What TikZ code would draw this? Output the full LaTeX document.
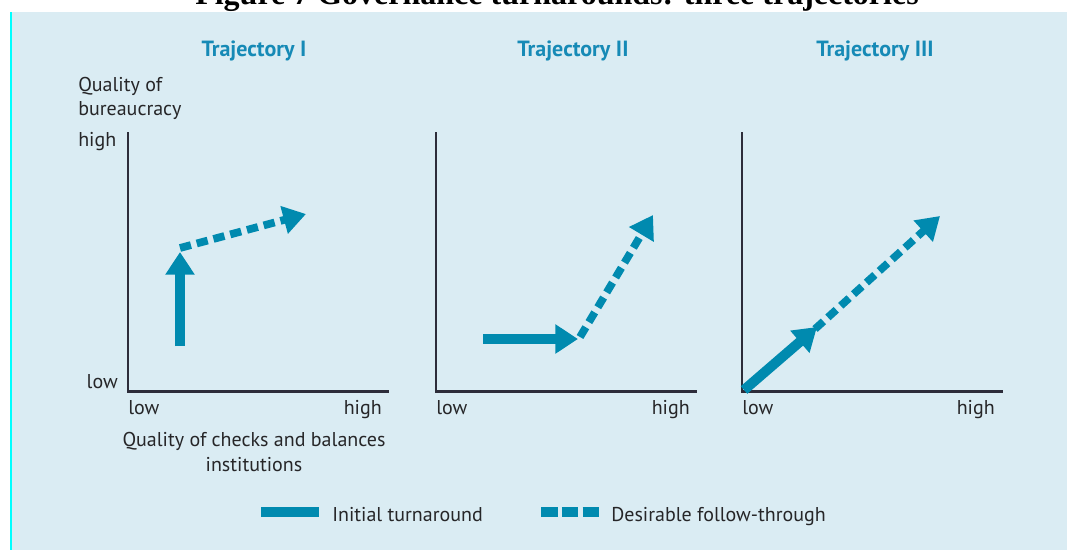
\documentclass[tikz,border=0pt]{standalone}
\usepackage{fontspec}
\setmainfont{PT Sans}
\newfontfamily\titlefont{Liberation Serif}
\usetikzlibrary{arrows.meta}
\definecolor{bgblue}{RGB}{218,236,243}
\definecolor{edgecyan}{RGB}{0,255,255}
\definecolor{arrowblue}{RGB}{0,138,175}
\definecolor{headblue}{RGB}{22,138,182}
\definecolor{axisgray}{RGB}{45,45,58}
\definecolor{textgray}{RGB}{38,38,40}
\tikzset{
  lbl/.style={font=\fontsize{15}{18}\selectfont, text=textgray, inner sep=0pt},
  paneltitle/.style={font=\fontsize{16.5}{19}\selectfont\bfseries, text=headblue, inner sep=0pt, anchor=base},
  axisline/.style={draw=axisgray, line width=1.6pt},
  initarrow/.style={draw=arrowblue, line width=7.5pt, -{Triangle[length=17pt,width=21pt]}},
  followarrow/.style={draw=arrowblue, line width=5.8pt, dash pattern=on 8.5pt off 4.5pt, -{Triangle[length=17pt,width=20.5pt]}},
}
\begin{document}
\begin{tikzpicture}[x=0.75pt,y=-0.75pt]
\useasboundingbox (0,0) rectangle (1067,550);
\fill[bgblue] (10,12) rectangle (1067,550);
\draw[edgecyan, line width=1.5pt] (11,12) -- (11,550);
\node[font=\titlefont\fontsize{24}{28}\selectfont\bfseries, anchor=base, inner sep=0pt] (title) at (557,4) {Figure 7 Governance turnarounds: three trajectories};

% panel titles
\node[paneltitle] (t1) at (254,56) {Trajectory I};
\node[paneltitle] (t2) at (573,56) {Trajectory II};
\node[paneltitle] (t3) at (875,56) {Trajectory III};

% axes
\foreach \n/\x/\r in {1/128/389, 2/436/697, 3/742/1003}{
  \coordinate (top\n) at (\x,132);
  \coordinate (o\n) at (\x,391.5);
  \coordinate (end\n) at (\r,391.5);
  \draw[axisline] (top\n) -- (o\n) -- (end\n);
}

% y-axis labels
\node[lbl, anchor=base west] (qb1) at (78,91) {Quality of};
\node[lbl, anchor=base west] (qb2) at (78,115) {bureaucracy};
\node[lbl, anchor=base west] (yhigh) at (78,146) {high};
\node[lbl, anchor=base east] (ylow) at (118,388) {low};

% x-axis labels
\node[lbl, anchor=base west] (xl1) at (128,414) {low};
\node[lbl, anchor=base east] (xh1) at (382,414) {high};
\node[lbl, anchor=base west] (xl2) at (436,414) {low};
\node[lbl, anchor=base east] (xh2) at (690,414) {high};
\node[lbl, anchor=base west] (xl3) at (742,414) {low};
\node[lbl, anchor=base east] (xh3) at (995,414) {high};
\node[lbl, anchor=base] (xq1) at (254,446) {Quality of checks and balances};
\node[lbl, anchor=base] (xq2) at (254,471) {institutions};

% panel 1
\coordinate (a1s) at (180,346);
\coordinate (a1e) at (180,252);
\coordinate (d1s) at (180,248);
\coordinate (d1e) at (306,214);
\draw[initarrow] (a1s) -- (a1e);
\draw[followarrow] (d1s) -- (d1e);

% panel 2
\coordinate (a2s) at (483,339);
\coordinate (a2e) at (578,339);
\coordinate (d2s) at (580,337);
\coordinate (d2e) at (653,215);
\draw[initarrow] (a2s) -- (a2e);
\draw[followarrow] (d2s) -- (d2e);

% panel 3
\coordinate (a3s) at (744,390);
\coordinate (a3e) at (817,327);
\coordinate (d3s) at (815,329);
\coordinate (d3e) at (940,216);
\draw[initarrow] (a3s) -- (a3e);
\draw[followarrow] (d3s) -- (d3e);

% legend
\coordinate (ls1) at (261,512);
\coordinate (le1) at (319,512);
\draw[draw=arrowblue, line width=7.5pt] (ls1) -- (le1);
\node[lbl, anchor=base west] (leg1) at (332,521) {Initial turnaround};
\coordinate (ls2) at (541,512);
\coordinate (le2) at (599,512);
\draw[draw=arrowblue, line width=7.5pt, dash pattern=on 12.4pt off 3.2pt] (ls2) -- (le2);
\node[lbl, anchor=base west] (leg2) at (611,521) {Desirable follow-through};
\end{tikzpicture}
\end{document}
